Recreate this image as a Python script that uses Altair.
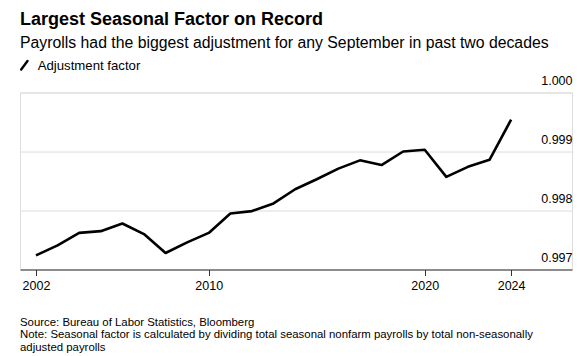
import altair as alt
import pandas as pd

years = [2002, 2003, 2004, 2005, 2006, 2007, 2008, 2009, 2010, 2011, 2012, 2013,
         2014, 2015, 2016, 2017, 2018, 2019, 2020, 2021, 2022, 2023, 2024]
values = [0.99724, 0.99741, 0.99762, 0.99765, 0.99778, 0.99760, 0.99728, 0.99746,
          0.99762, 0.99795, 0.99799, 0.99812, 0.99836, 0.99853, 0.99871, 0.99885,
          0.99877, 0.99900, 0.99903, 0.99857, 0.99874, 0.99886, 0.99954]
x_ticks = [2002, 2010, 2020, 2024]
y_ticks = [0.997, 0.998, 0.999, 1.000]

title = "Largest Seasonal Factor on Record"
subtitle = "Payrolls had the biggest adjustment for any September in past two decades"
legend_label = "Adjustment factor"
source = "Source: Bureau of Labor Statistics, Bloomberg"
note1 = "Note: Seasonal factor is calculated by dividing total seasonal nonfarm payrolls by total non-seasonally"
note2 = "adjusted payrolls"

FONT = "Liberation Sans"
W, H = 552, 177
LEFT, TOP = 20, 92.5

df = pd.DataFrame({"year": years, "value": values})

line = alt.Chart(df).mark_line(color="#000000", strokeWidth=2.6, strokeJoin="round").encode(
    x=alt.X("year:Q",
            scale=alt.Scale(domain=[2001.26, 2026.82], nice=False, zero=False),
            axis=alt.Axis(values=x_ticks, format="d", title=None, grid=False,
                          domainColor="#333333", domainWidth=1,
                          tickColor="#333333", tickSize=6, tickWidth=1,
                          labelFont=FONT, labelFontSize=12.5, labelColor="#000000",
                          labelPadding=4, labelFlush=False)),
    y=alt.Y("value:Q",
            scale=alt.Scale(domain=[0.997, 1.000], nice=False, zero=False),
            axis=alt.Axis(values=y_ticks, format=".3f", title=None, orient="right",
                          domain=False, ticks=False, grid=True, gridColor="#dcdcdc",
                          gridWidth=1, labelAlign="right", labelPadding=0,
                          labelBaseline="alphabetic", labelOffset=-8,
                          labelFont=FONT, labelFontSize=12.5, labelColor="#000000")),
)


def txt(s, x, y, size, weight="normal"):
    return alt.Chart(pd.DataFrame({"t": [s]})).mark_text(
        align="left", baseline="alphabetic", font=FONT, fontSize=size,
        fontWeight=weight, color="#000000"
    ).encode(text="t:N", x=alt.value(x), y=alt.value(y))


texts = [
    txt(title, 0, 25 - TOP, 18, "bold"),
    txt(subtitle, 0, 48 - TOP, 15.8),
    txt(legend_label, 17.7, 70 - TOP, 13.2),
    txt(source, 0, 325.5 - TOP, 11.4),
    txt(note1, 0, 338 - TOP, 11.4),
    txt(note2, 0, 350.5 - TOP, 11.4),
]

icon = alt.Chart(pd.DataFrame({"a": [0]})).mark_rule(
    color="#000000", strokeWidth=2.4, strokeCap="round"
).encode(x=alt.value(1.2), x2=alt.value(7.5), y=alt.value(69.5 - TOP), y2=alt.value(61 - TOP))

chart = alt.layer(line, icon, *texts).properties(
    width=W, height=H,
    autosize=alt.AutoSizeParams(type="none"),
    padding={"left": LEFT, "top": TOP, "right": 587 - LEFT - W, "bottom": 356 - TOP - H},
).configure_view(stroke=None).configure(background="#ffffff")

chart.save("out.html", embed_options={"renderer": "svg", "actions": False})
